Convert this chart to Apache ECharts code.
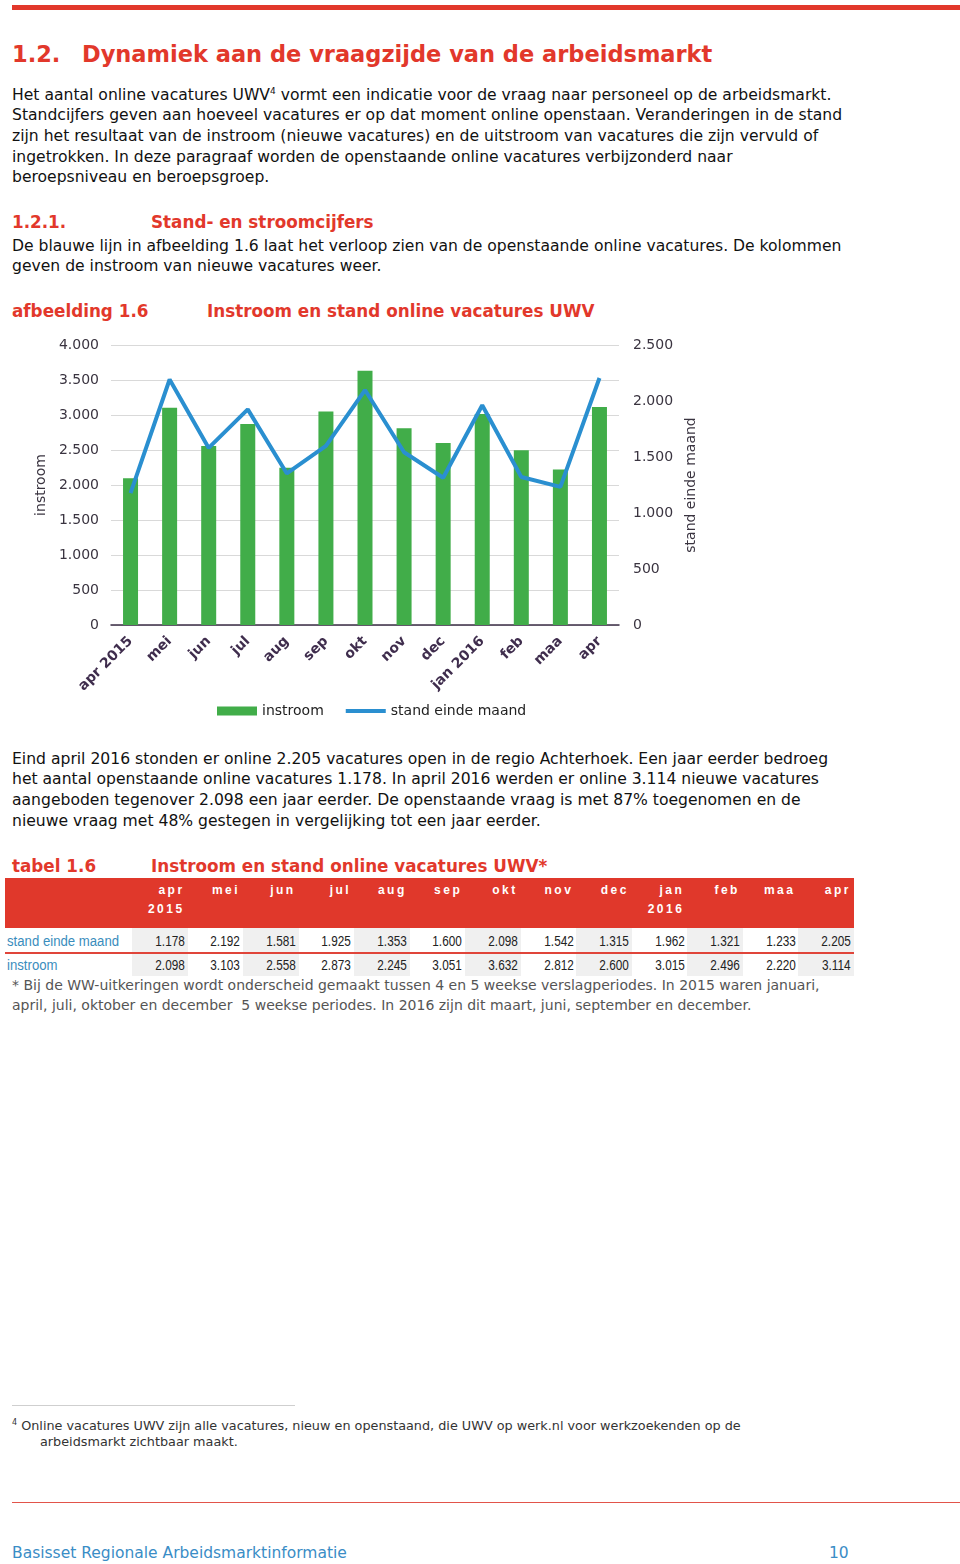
<!DOCTYPE html>
<html>
<head>
<meta charset="utf-8">
<script src="https://cdn.jsdelivr.net/npm/echarts@6/dist/echarts.min.js"></script>
<style>
  html, body { margin: 0; padding: 0; background: #fff; }
  body { width: 960px; height: 1564px; position: relative; overflow: hidden; font-family: "DejaVu Sans", Verdana, sans-serif; color: #111; }
  .abs { position: absolute; white-space: nowrap; }
  .red { color: #e2382b; font-weight: bold; }
  .txt { font-size: 15.6px; line-height: 20.7px; left: 12px; }
  .h3 { font-size: 16.8px; line-height: 22px; }
  sup { font-size: 9px; line-height: 0; vertical-align: 6px; }
  #chart { position: absolute; left: 0; top: 330px; width: 960px; height: 400px; }
  #tbl { position: absolute; left: 5px; top: 878px; width: 849px; border-collapse: collapse; table-layout: fixed;
         font-family: "Liberation Sans", Arial, sans-serif; }
  #tbl th { background: #e0382b; color: #fff; font-weight: bold;
            font-size: 12px; letter-spacing: 2.5px; line-height: 19px; height: 47px; text-align: right; vertical-align: top;
            padding: 3px 3px 0 0; }
  #tbl td { font-size: 15.5px; line-height: 18px; text-align: right; padding: 0 3px 0 0; height: 22px; color: #222;
            white-space: nowrap; overflow: visible; }
  #tbl td.lab { text-align: left; color: #3a8dbd; padding-left: 2px; }
  #tbl td.alt { background: #f0f0f0; }
  #tbl tr.r1 td { border-bottom: 2px solid #e0453a; height: 22px; padding-top: 2px; }
  #tbl span { display: inline-block; }
  #tbl td span { transform: scaleX(0.76); transform-origin: right center; }
  #tbl td.lab span { transform: scaleX(0.85); transform-origin: left center; }
</style>
</head>
<body>
<div class="abs" style="left:12px;top:5px;width:948px;height:5px;background:#e2382b"></div>

<div class="abs red" style="left:12px;top:41px;font-size:22.5px;line-height:26px">1.2.</div>
<div class="abs red" style="left:82px;top:41px;font-size:22.5px;line-height:26px">Dynamiek aan de vraagzijde van de arbeidsmarkt</div>

<div class="abs txt" style="top:84.6px">Het aantal online vacatures UWV<sup>4</sup> vormt een indicatie voor de vraag naar personeel op de arbeidsmarkt.<br>Standcijfers geven aan hoeveel vacatures er op dat moment online openstaan. Veranderingen in de stand<br>zijn het resultaat van de instroom (nieuwe vacatures) en de uitstroom van vacatures die zijn vervuld of<br>ingetrokken. In deze paragraaf worden de openstaande online vacatures verbijzonderd naar<br>beroepsniveau en beroepsgroep.</div>

<div class="abs red h3" style="left:12px;top:211px">1.2.1.</div>
<div class="abs red h3" style="left:151px;top:211px">Stand- en stroomcijfers</div>
<div class="abs txt" style="top:235.6px">De blauwe lijn in afbeelding 1.6 laat het verloop zien van de openstaande online vacatures. De kolommen<br>geven de instroom van nieuwe vacatures weer.</div>

<div class="abs red h3" style="left:12px;top:300px">afbeelding 1.6</div>
<div class="abs red h3" style="left:207px;top:300px">Instroom en stand online vacatures UWV</div>

<div id="chart"></div>

<div class="abs txt" style="top:748.6px">Eind april 2016 stonden er online 2.205 vacatures open in de regio Achterhoek. Een jaar eerder bedroeg<br>het aantal openstaande online vacatures 1.178. In april 2016 werden er online 3.114 nieuwe vacatures<br>aangeboden tegenover 2.098 een jaar eerder. De openstaande vraag is met 87% toegenomen en de<br>nieuwe vraag met 48% gestegen in vergelijking tot een jaar eerder.</div>

<div class="abs red h3" style="left:12px;top:855px">tabel 1.6</div>
<div class="abs red h3" style="left:151px;top:855px">Instroom en stand online vacatures UWV*</div>

<table id="tbl"></table>

<div class="abs" style="left:12px;top:975px;font-size:14px;line-height:20px;color:#555">* Bij de WW-uitkeringen wordt onderscheid gemaakt tussen 4 en 5 weekse verslagperiodes. In 2015 waren januari,<br>april, juli, oktober en december&nbsp; 5 weekse periodes. In 2016 zijn dit maart, juni, september en december.</div>

<div class="abs" style="left:12px;top:1405px;width:283px;height:1px;background:#cfcfcf"></div>
<div class="abs" style="left:12px;top:1418px;font-size:12.8px;line-height:16px;color:#333"><sup style="font-size:8px;vertical-align:5px">4</sup> Online vacatures UWV zijn alle vacatures, nieuw en openstaand, die UWV op werk.nl voor werkzoekenden op de</div>
<div class="abs" style="left:40px;top:1434px;font-size:12.8px;line-height:16px;color:#333">arbeidsmarkt zichtbaar maakt.</div>

<div class="abs" style="left:12px;top:1502px;width:948px;height:1px;background:#e2544a"></div>
<div class="abs" style="left:12px;top:1543px;font-size:15.5px;line-height:20px;color:#3a8dc6">Basisset Regionale Arbeidsmarktinformatie</div>
<div class="abs" style="left:829px;top:1543px;font-size:15.5px;line-height:20px;color:#3a8dc6">10</div>

<script>
const months = ['apr 2015', 'mei', 'jun', 'jul', 'aug', 'sep', 'okt', 'nov', 'dec', 'jan 2016', 'feb', 'maa', 'apr'];
const instroom = [2098, 3103, 2558, 2873, 2245, 3051, 3632, 2812, 2600, 3015, 2496, 2220, 3114];
const standEindeMaand = [1178, 2192, 1581, 1925, 1353, 1600, 2098, 1542, 1315, 1962, 1321, 1233, 2205];

// duizendtallen met een punt, zoals in het origineel
function fmt(v) {
  return String(v).replace(/\B(?=(\d{3})+(?!\d))/g, '.');
}

// tabel opbouwen
const tbl = document.getElementById('tbl');
function row(label, values, cls) {
  return '<tr' + (cls ? ' class="' + cls + '"' : '') + '><td class="lab"><span>' + label + '</span></td>' +
    values.map((v, i) => '<td' + (i % 2 === 0 ? ' class="alt"' : '') + '><span>' + fmt(v) + '</span></td>').join('') + '</tr>';
}
let html = '<colgroup><col style="width:127px">' + months.map(() => '<col style="width:55.5px">').join('') + '</colgroup>';
html += '<tr><th></th>' + months.map(m => '<th>' + m.split(' ').join('<br>') + '</th>').join('') + '</tr>';
html += row('stand einde maand', standEindeMaand, 'r1');
html += row('instroom', instroom);
tbl.innerHTML = html;

// grafiek
const chart = echarts.init(document.getElementById('chart'));
const axisText = { color: '#3a3440', fontSize: 14, fontFamily: 'DejaVu Sans' };
chart.setOption({
  animation: false,
  textStyle: { fontFamily: 'DejaVu Sans' },
  grid: { left: 111, top: 15, width: 508, height: 280 },
  legend: {
    left: 217,
    top: 374,
    padding: 0,
    itemWidth: 40,
    itemHeight: 9,
    itemGap: 22,
    textStyle: { color: '#222', fontSize: 14 },
    data: [
      { name: 'instroom', icon: 'rect' },
      { name: 'stand einde maand', icon: 'path://M0,0L40,0L40,4L0,4Z' }
    ]
  },
  xAxis: {
    type: 'category',
    data: months,
    axisTick: { show: false },
    axisLine: { lineStyle: { color: '#3b2e45', width: 1.5 } },
    axisLabel: {
      interval: 0,
      rotate: 45,
      margin: 14,
      color: '#3f2d4d',
      fontWeight: 'bold',
      fontSize: 14
    }
  },
  yAxis: [
    {
      type: 'value',
      min: 0,
      max: 4000,
      interval: 500,
      name: 'instroom',
      nameLocation: 'middle',
      nameRotate: 90,
      nameGap: 53,
      nameTextStyle: axisText,
      axisLabel: Object.assign({ margin: 12, formatter: fmt }, axisText),
      axisLine: { show: false },
      axisTick: { show: false },
      splitLine: { lineStyle: { color: '#d9d9d9' } }
    },
    {
      type: 'value',
      min: 0,
      max: 2500,
      interval: 500,
      name: 'stand einde maand',
      nameLocation: 'middle',
      nameRotate: 90,
      nameGap: 60,
      nameTextStyle: axisText,
      axisLabel: Object.assign({ margin: 14, formatter: fmt }, axisText),
      axisLine: { show: false },
      axisTick: { show: false },
      splitLine: { show: false }
    }
  ],
  series: [
    {
      name: 'instroom',
      type: 'bar',
      barWidth: 15,
      itemStyle: { color: '#41ad49' },
      data: instroom
    },
    {
      name: 'stand einde maand',
      type: 'line',
      yAxisIndex: 1,
      symbol: 'none',
      lineStyle: { color: '#2a8fd0', width: 4 },
      itemStyle: { color: '#2a8fd0' },
      data: standEindeMaand
    }
  ]
});
</script>
</body>
</html>
